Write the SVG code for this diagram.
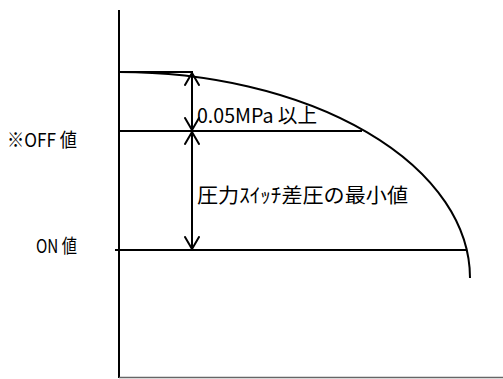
<svg xmlns="http://www.w3.org/2000/svg" width="503" height="379" viewBox="0 0 503 379">
<style>
.ln{stroke:#000;stroke-width:2;fill:none}
.ah{stroke:#000;stroke-width:2;fill:none;stroke-linecap:round}
.t{font-family:"Noto Sans CJK JP","Liberation Sans",sans-serif;fill:#000}
</style>
<defs>
<marker id="open" viewBox="0 0 14 16" refX="13" refY="8" markerWidth="14" markerHeight="16" markerUnits="userSpaceOnUse" orient="auto-start-reverse">
<path d="M1,1 L13,8 L1,15" class="ah"/>
</marker>
</defs>
<rect width="503" height="379" fill="#fff"/>
<g id="axes">
<line x1="119" y1="10" x2="119" y2="378" class="ln"/>
<line x1="119" y1="377.5" x2="503" y2="377.5" stroke="#666" stroke-width="1.5"/>
</g>
<g id="curve">
<path d="M119,72 A351,206 0 0 1 470,278" class="ln"/>
</g>
<g id="levels">
<line x1="119" y1="72" x2="193" y2="72" class="ln"/>
<line x1="119" y1="131" x2="362" y2="131" class="ln"/>
<line x1="115" y1="250" x2="467" y2="250" class="ln"/>
</g>
<g id="connectors">
<line x1="192" y1="73" x2="192" y2="130" class="ln" marker-start="url(#open)" marker-end="url(#open)"/>
<line x1="192" y1="132" x2="192" y2="249" class="ln" marker-start="url(#open)" marker-end="url(#open)"/>
</g>
<g id="labels">
<text class="t" x="197" y="123" font-size="20" textLength="120" lengthAdjust="spacingAndGlyphs">0.05MPa 以上</text>
<text class="t" x="197" y="203" font-size="20" textLength="211" lengthAdjust="spacingAndGlyphs">圧力ｽｲｯﾁ差圧の最小値</text>
<text class="t" x="7" y="147" font-size="19" textLength="70" lengthAdjust="spacingAndGlyphs">※OFF 値</text>
<text class="t" x="36" y="253" font-size="19" textLength="41" lengthAdjust="spacingAndGlyphs">ON 値</text>
</g>
</svg>
